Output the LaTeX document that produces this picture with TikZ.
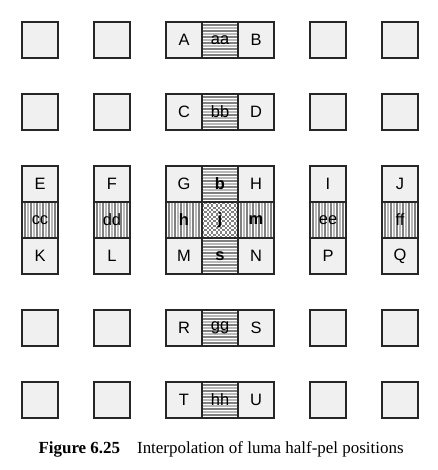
\documentclass[tikz,border=0pt]{standalone}
\usepackage{fontspec}
\setmainfont{Liberation Serif}
\setsansfont{Liberation Sans}
\begin{document}
\begin{tikzpicture}[x=1cm,y=-1cm,
    pel/.style={draw=black!85, line width=0.9pt, fill=black!6, minimum size=1cm,
      inner sep=0pt, font=\sffamily\fontsize{13}{13}\selectfont},
    hstripe/.style={pel, fill=white, path picture={
        \foreach \k [evaluate=\k as \g using {int(28+22*mod(\k,2))}] in {1,...,11}
          \draw[black!\g, line width=0.85pt]
            ([yshift=\k*0.0833cm]path picture bounding box.south west) --
            ([yshift=\k*0.0833cm]path picture bounding box.south east);}},
    vstripe/.style={pel, fill=white, path picture={
        \foreach \k [evaluate=\k as \g using {int(28+22*mod(\k,2))}] in {1,...,11}
          \draw[black!\g, line width=0.85pt]
            ([xshift=\k*0.0833cm]path picture bounding box.south west) --
            ([xshift=\k*0.0833cm]path picture bounding box.north west);}},
    checked/.style={pel, fill=white, path picture={
        \foreach \i in {0,...,15}
          \foreach \m in {0,...,15} {
            \pgfmathparse{int(mod(\i+\m,2))}
            \ifnum\pgfmathresult=0
              \fill[black!50] ([shift={(\i*0.0625cm,\m*0.0625cm)}]path picture bounding box.south west)
                rectangle ++(0.0625cm,0.0625cm);
            \fi}}}]
  \useasboundingbox (-0.611,-0.611) rectangle (11.528,12.444);
  % full-pel samples and blank positions
  \path
    (0.5,0.5) node[pel] (x1){}
    (2.5,0.5) node[pel] (x2){}
    (4.5,0.5) node[pel] (A){A}
    (6.5,0.5) node[pel] (B){B}
    (8.5,0.5) node[pel] (x3){}
    (10.5,0.5) node[pel] (x4){}
    (0.5,2.5) node[pel] (x5){}
    (2.5,2.5) node[pel] (x6){}
    (4.5,2.5) node[pel] (C){C}
    (6.5,2.5) node[pel] (D){D}
    (8.5,2.5) node[pel] (x7){}
    (10.5,2.5) node[pel] (x8){}
    (0.5,4.5) node[pel] (E){E}
    (2.5,4.5) node[pel] (F){F}
    (4.5,4.5) node[pel] (G){G}
    (6.5,4.5) node[pel] (H){H}
    (8.5,4.5) node[pel] (I){I}
    (10.5,4.5) node[pel] (J){J}
    (0.5,6.5) node[pel] (K){K}
    (2.5,6.5) node[pel] (L){L}
    (4.5,6.5) node[pel] (M){M}
    (6.5,6.5) node[pel] (N){N}
    (8.5,6.5) node[pel] (P){P}
    (10.5,6.5) node[pel] (Q){Q}
    (0.5,8.5) node[pel] (x9){}
    (2.5,8.5) node[pel] (x10){}
    (4.5,8.5) node[pel] (R){R}
    (6.5,8.5) node[pel] (S){S}
    (8.5,8.5) node[pel] (x11){}
    (10.5,8.5) node[pel] (x12){}
    (0.5,10.5) node[pel] (x13){}
    (2.5,10.5) node[pel] (x14){}
    (4.5,10.5) node[pel] (T){T}
    (6.5,10.5) node[pel] (U){U}
    (8.5,10.5) node[pel] (x15){}
    (10.5,10.5) node[pel] (x16){};
  % half-pel samples
  \path
    (5.5,0.5) node[hstripe] (aa){aa}
    (5.5,2.5) node[hstripe] (bb){bb}
    (5.5,4.5) node[hstripe] (b){\bfseries b}
    (5.5,6.5) node[hstripe] (s){\bfseries s}
    (5.5,8.5) node[hstripe] (gg){gg}
    (5.5,10.5) node[hstripe] (hh){hh}
    (0.5,5.5) node[vstripe] (cc){cc}
    (2.5,5.5) node[vstripe] (dd){dd}
    (4.5,5.5) node[vstripe] (h){\bfseries h}
    (6.5,5.5) node[vstripe] (m){\bfseries m}
    (8.5,5.5) node[vstripe] (ee){ee}
    (10.5,5.5) node[vstripe] (ff){ff}
    (5.5,5.5) node[checked] (j){\bfseries j};
  \node (cap) at (5.53,11.86) {\fontsize{13.4}{16}\selectfont
    \textbf{Figure 6.25}\quad Interpolation of luma half-pel positions};
\end{tikzpicture}
\end{document}
